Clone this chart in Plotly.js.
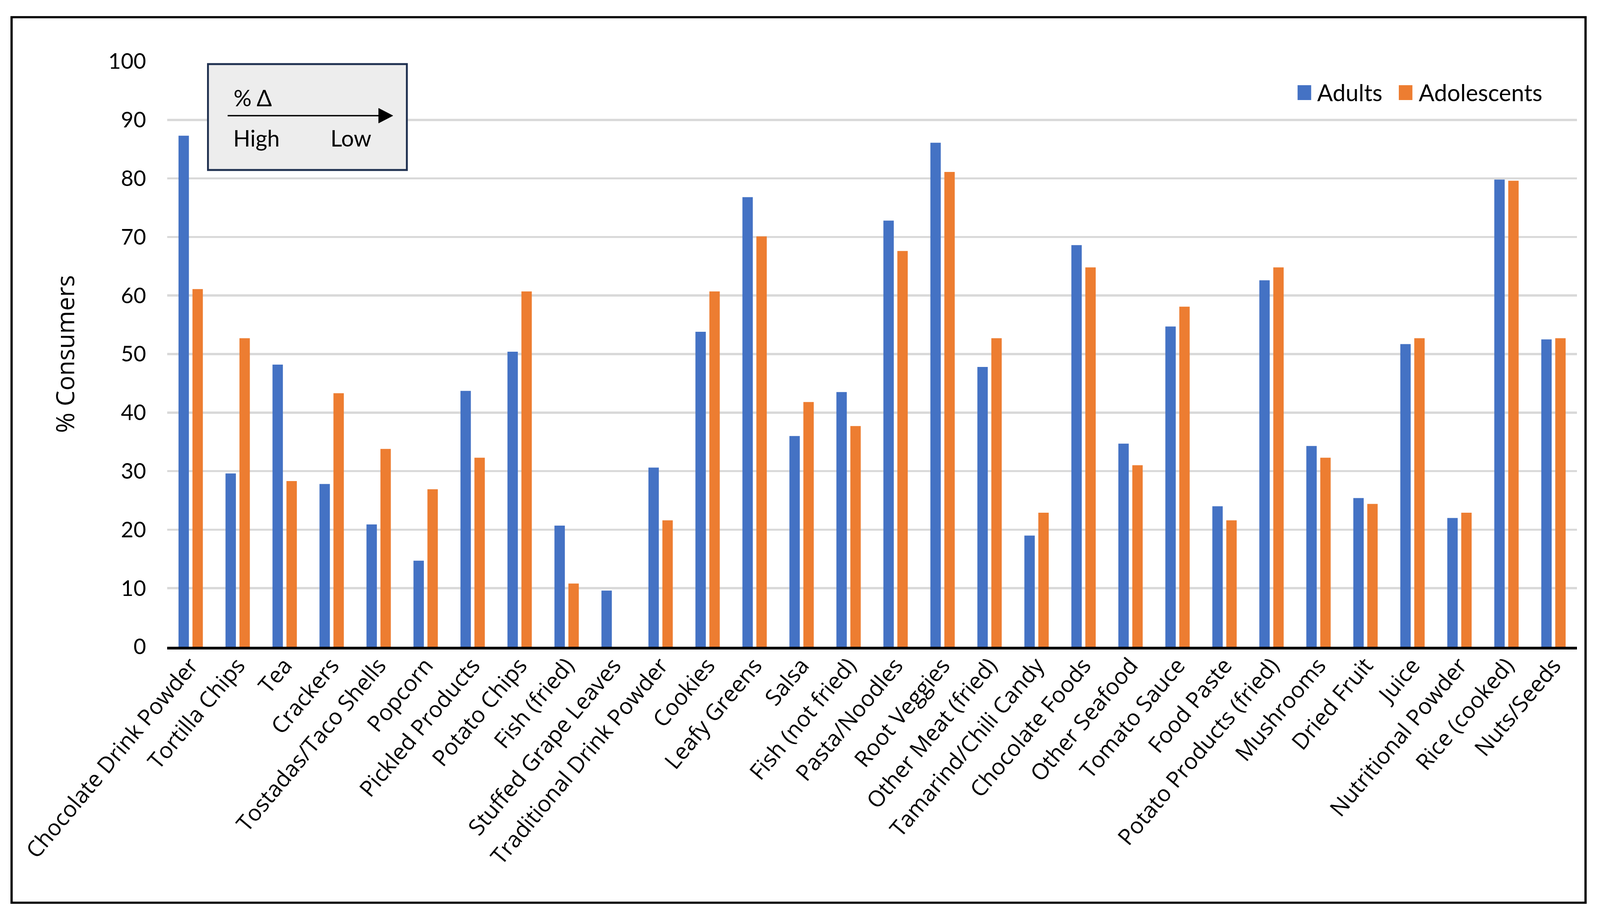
<!DOCTYPE html>
<html>
<head>
<meta charset="utf-8">
<script src="https://cdn.plot.ly/plotly-3.0.1.min.js"></script>
<style>
  html, body { margin: 0; padding: 0; background: #ffffff; overflow: hidden; }
</style>
</head>
<body>
<div id="chart"></div>
<script>
// ---- Data ----
const categories = [
  "Chocolate Drink Powder", "Tortilla Chips", "Tea", "Crackers", "Tostadas/Taco Shells",
  "Popcorn", "Pickled Products", "Potato Chips", "Fish (fried)", "Stuffed Grape Leaves",
  "Traditional Drink Powder", "Cookies", "Leafy Greens", "Salsa", "Fish (not fried)",
  "Pasta/Noodles", "Root Veggies", "Other Meat (fried)", "Tamarind/Chili Candy", "Chocolate Foods",
  "Other Seafood", "Tomato Sauce", "Food Paste", "Potato Products (fried)", "Mushrooms",
  "Dried Fruit", "Juice", "Nutritional Powder", "Rice (cooked)", "Nuts/Seeds"
];
const adults = [
  87.3, 29.6, 48.2, 27.8, 20.9,
  14.7, 43.7, 50.4, 20.7, 9.6,
  30.6, 53.8, 76.8, 36.0, 43.5,
  72.8, 86.1, 47.8, 19.0, 68.6,
  34.7, 54.7, 24.0, 62.6, 34.3,
  25.4, 51.7, 22.0, 79.8, 52.5
];
const adolescents = [
  61.1, 52.7, 28.3, 43.3, 33.8,
  26.9, 32.3, 60.7, 10.8, 0,
  21.6, 60.7, 70.1, 41.8, 37.7,
  67.6, 81.1, 52.7, 22.9, 64.8,
  31.0, 58.1, 21.6, 64.8, 32.3,
  24.4, 52.7, 22.9, 79.6, 52.7
];
const seriesNames = ["Adults", "Adolescents"];
const seriesColors = ["#4472C4", "#ED7D31"];
const yTickVals = [0, 10, 20, 30, 40, 50, 60, 70, 80, 90, 100];
const yTitle = "% Consumers";
const boxTitle = "% \u0394";
const boxLeft = "High";
const boxRight = "Low";

// ---- Layout geometry (reference pixels, scaled to fill the viewport) ----
const W = 4472, H = 2344;
const VW = window.innerWidth || W, VH = window.innerHeight || H;
const sx = VW / W, sy = VH / H;
const f = (sx + sy) / 2;                       // font / stroke scale
const M0 = { l: 467, r: 64, t: 157, b: 689 };
const PW = W - M0.l - M0.r, PH = H - M0.t - M0.b;
const fx = px => (px - M0.l) / PW;              // reference pixel -> paper x
const fy = py => (H - M0.b - py) / PH;          // reference pixel -> paper y
// label angle as seen in the reference frame, mapped to the viewport frame
const labelAngle = -Math.round(Math.atan(Math.tan(47.5 * Math.PI / 180) * sy / sx) * 180 / Math.PI);

const chartDiv = document.getElementById("chart");
chartDiv.style.width = VW + "px";
chartDiv.style.height = VH + "px";

const textFont = "Lato, Carlito, Calibri, sans-serif";
const labelFont = "'Open Sans', 'Segoe UI', 'Noto Sans', sans-serif";

const traces = [
  { type: "bar", name: seriesNames[0], x: categories, y: adults,
    marker: { color: seriesColors[0] }, showlegend: false, hoverinfo: "skip" },
  { type: "bar", name: seriesNames[1], x: categories, y: adolescents,
    marker: { color: seriesColors[1] }, showlegend: false, hoverinfo: "skip" }
];

const shapes = [
  // outer border
  { type: "rect", xref: "paper", yref: "paper",
    x0: fx(32), x1: fx(4432), y0: fy(2310), y1: fy(44),
    line: { color: "#000000", width: 6 * f }, fillcolor: "rgba(0,0,0,0)", layer: "above" },
  // % delta box
  { type: "rect", xref: "paper", yref: "paper",
    x0: fx(581), x1: fx(1137), y0: fy(435), y1: fy(164),
    line: { color: "#1F3050", width: 5 * f }, fillcolor: "#EDEDED", layer: "above" },
  // arrow shaft
  { type: "line", xref: "paper", yref: "paper",
    x0: fx(636), x1: fx(1062), y0: fy(296), y1: fy(296),
    line: { color: "#000000", width: 3.5 * sy }, layer: "above" },
  // arrow head
  { type: "path", xref: "paper", yref: "paper",
    path: `M ${fx(1058)} ${fy(277)} L ${fx(1098)} ${fy(296)} L ${fx(1058)} ${fy(315)} Z`,
    fillcolor: "#000000", line: { color: "#000000", width: 1 }, layer: "above" },
  // legend swatches
  { type: "rect", xref: "paper", yref: "paper",
    x0: fx(3627), x1: fx(3665), y0: fy(256), y1: fy(218),
    fillcolor: seriesColors[0], line: { width: 0 }, layer: "above" },
  { type: "rect", xref: "paper", yref: "paper",
    x0: fx(3910), x1: fx(3948), y0: fy(256), y1: fy(218),
    fillcolor: seriesColors[1], line: { width: 0 }, layer: "above" }
];

const annotations = [
  { xref: "paper", yref: "paper", x: fx(651), y: fy(250), xanchor: "left", yanchor: "middle",
    text: boxTitle, showarrow: false, font: { family: textFont, size: 60 * f, color: "#000000" } },
  { xref: "paper", yref: "paper", x: fx(649), y: fy(352), xanchor: "left", yanchor: "middle",
    text: boxLeft, showarrow: false, font: { family: textFont, size: 60 * f, color: "#000000" } },
  { xref: "paper", yref: "paper", x: fx(921), y: fy(352), xanchor: "left", yanchor: "middle",
    text: boxRight, showarrow: false, font: { family: textFont, size: 60 * f, color: "#000000" } },
  { xref: "paper", yref: "paper", x: fx(3680), y: fy(236), xanchor: "left", yanchor: "middle",
    text: seriesNames[0], showarrow: false, font: { family: textFont, size: 62 * f, color: "#000000" } },
  { xref: "paper", yref: "paper", x: fx(3964), y: fy(236), xanchor: "left", yanchor: "middle",
    text: seriesNames[1], showarrow: false, font: { family: textFont, size: 62 * f, color: "#000000" } }
];

const layout = {
  width: VW, height: VH,
  margin: { l: M0.l * sx, r: M0.r * sx, t: M0.t * sy, b: M0.b * sy, pad: 0 },
  paper_bgcolor: "#FFFFFF",
  plot_bgcolor: "#FFFFFF",
  barmode: "group",
  bargap: 0.406,
  bargroupgap: 0.256,
  showlegend: false,
  xaxis: {
    type: "category",
    tickangle: labelAngle,
    tickfont: { family: labelFont, size: 60 * f, color: "#000000" },
    showline: true, linecolor: "#000000", linewidth: 7 * sy,
    showgrid: false, zeroline: false, ticks: "",
    ticklabelstandoff: Math.round(-16 * sy),
    automargin: false
  },
  yaxis: {
    range: [0, 100],
    tickmode: "array", tickvals: yTickVals,
    tickfont: { family: textFont, size: 58 * f, color: "#000000" },
    showgrid: true, gridcolor: "#D9D9D9", gridwidth: 5.5 * sy,
    zeroline: false, showline: false, ticks: "",
    ticklabelstandoff: Math.round(58 * sx),
    title: { text: yTitle, font: { family: labelFont, size: 66 * f, color: "#000000" },
             standoff: Math.round(72 * sx) },
    automargin: false
  },
  shapes: shapes,
  annotations: annotations
};

Plotly.newPlot(chartDiv, traces, layout, { displayModeBar: false, staticPlot: true });
</script>
</body>
</html>
